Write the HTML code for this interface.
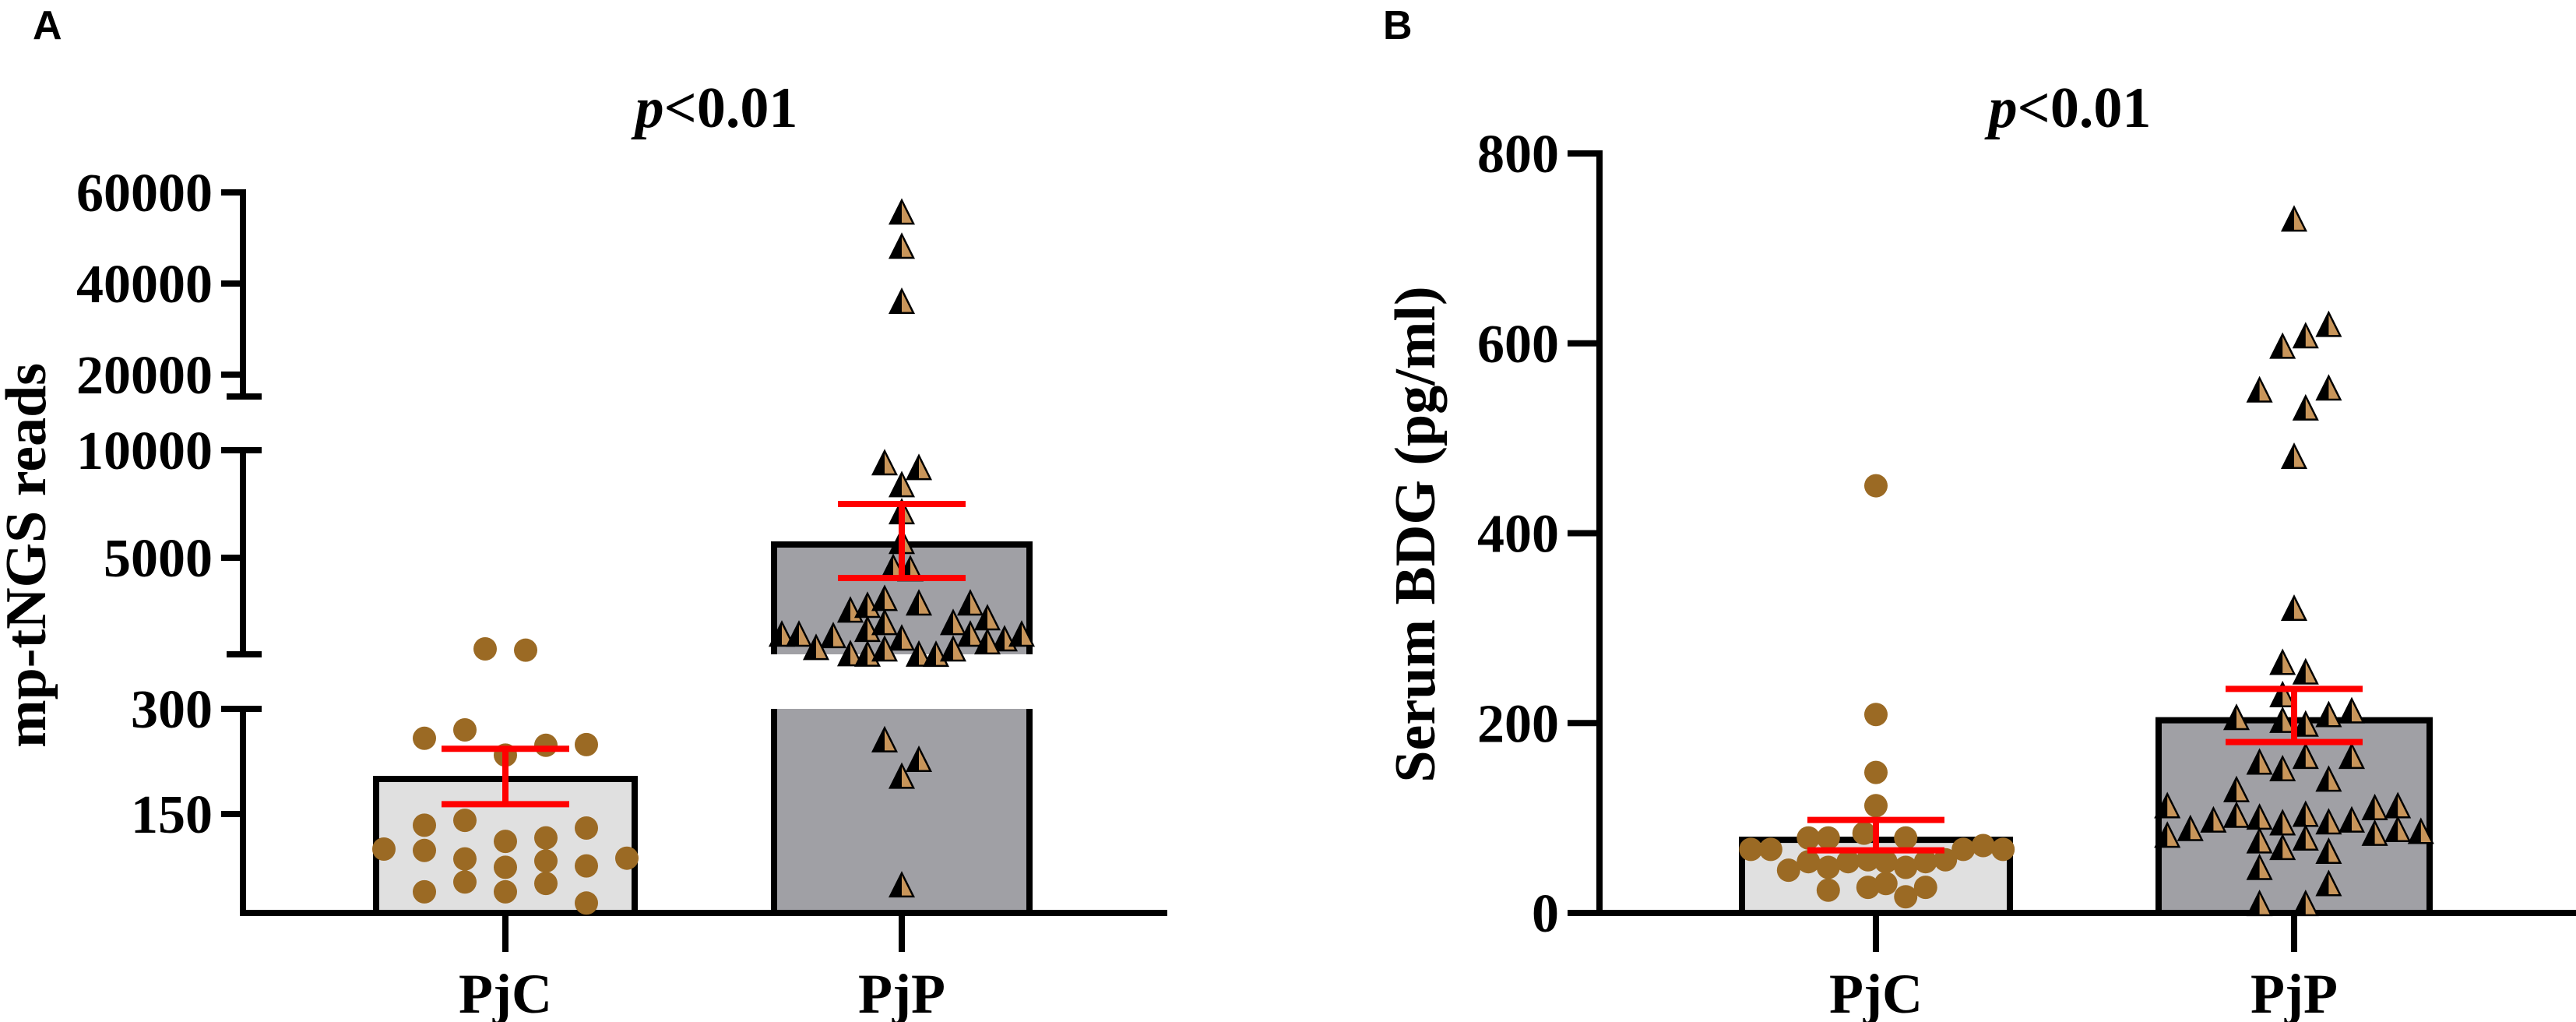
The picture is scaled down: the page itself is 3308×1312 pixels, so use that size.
<!DOCTYPE html>
<html><head><meta charset="utf-8"><style>
body{margin:0;background:#fff}
svg{display:block}
text{font-family:"Liberation Serif",serif;font-weight:bold;fill:#000}
</style></head><body>
<svg id="c" width="3308" height="1312" viewBox="0 0 3308 1312" xmlns="http://www.w3.org/2000/svg">
<text x="42" y="50" style="font-family:'Liberation Sans',sans-serif;font-size:52px">A</text>
<text x="1776" y="50" style="font-family:'Liberation Sans',sans-serif;font-size:52px">B</text>
<text x="920" y="163" text-anchor="middle" font-size="74"><tspan font-style="italic">p</tspan>&lt;0.01</text>
<text x="2658" y="163" text-anchor="middle" font-size="74"><tspan font-style="italic">p</tspan>&lt;0.01</text>
<text transform="translate(58,713) rotate(-90)" text-anchor="middle" font-size="74">mp-tNGS reads</text>
<text transform="translate(1842,686) rotate(-90)" text-anchor="middle" font-size="74">Serum BDG (pg/ml)</text>
<g id="ga"></g><g id="gb"></g>
</svg>
<script>
// Panel A data
const catsA = ["PjC","PjP"];
const meanA = [200, 5616];
const errHiA = [243, 7500];
const errLoA = [164, 4060];
const ticksA = [150,300,5000,10000,20000,40000,60000];
const pjcA = [761,700,258,270,234,248,249,134,141,130,100,98,111,116,87,86,74,83,76,39,53,39,51,23];
const pjcAJit = [-0.5,0.5,-2,-1,0,1,2,-2,-1,2,-3,-2,0,1,3,-1,0,1,2,-2,-1,0,1,2];
const pjpA = [55700,48200,36100,9420,9200,8400,7140,5760,4560,4490,2570,2790,3110,2900,2900,2210,1990,1670,1990,1450,1450,1380,1270,1450,1230,1450,830,540,520,760,520,510,760,1090,256,228,204,49];
const pjpAJit = [0,0,0,-1,1,0,0,0,-0.5,0.5,-3,-2,-1,1,4,5,3,-2,-1,-7,-6,-4,0,4,6,7,-5,-3,-2,-1,1,2,3,5,-1,1,0,0];
// Panel B data
const catsB = ["PjC","PjP"];
const meanB = [77, 203];
const errHiB = [98, 236];
const errLoB = [66, 180];
const ticksB = [0,200,400,600,800];
const pjcB = [450,209,148,113,84,79,79,79,67,67,67,71,67,45,54,48,54,56,54,48,54,56,24,27,31,17,27];
const pjcBJit = [0,0,0,0,-0.6,-3.4,-2.4,1.5,-6.3,-5.3,4.4,5.4,6.4,-4.4,-3.4,-2.4,-1.4,-0.4,0.5,1.5,2.5,3.5,-2.4,-0.4,0.5,1.5,2.5];
const pjpB = [731,597,608,620,551,553,532,481,321,264,254,230,206,203,199,209,213,159,152,165,165,130,141,113,82,89,98,103,101,95,104,96,98,111,113,84,88,86,76,69,79,65,48,31,10,10];
const pjpBJit = [0,-0.5,0.5,1.5,-1.5,1.5,0.5,0,0,-0.5,0.5,-0.5,-2.5,-0.5,0.5,1.5,2.5,-1.5,-0.5,0.5,2.5,-2.5,1.5,-5.5,-5.5,-4.5,-3.5,-2.5,-1.5,-0.5,0.5,1.5,2.5,3.5,4.5,3.5,4.5,5.5,-1.5,-0.5,0.5,1.5,-1.5,1.5,-1.5,0.5];

const NS="http://www.w3.org/2000/svg";
function mk(parent,tag,attrs){const e=document.createElementNS(NS,tag);for(const k in attrs)e.setAttribute(k,attrs[k]);parent.appendChild(e);return e;}
const DOT="#9b6a24",TRI="#c8955a",RED="#ff0000",LW=8;

// Panel A broken axis
const segsA=[{d0:0,d1:300,p0:1180,p1:910,top:910,bot:1172},{d0:507,d1:10000,p0:840,p1:578,top:578,bot:840},{d0:15200,d1:60000,p0:509,p1:247,top:247,bot:509}];
function segOf(v){return v<=300?segsA[0]:(v<=10000?segsA[1]:segsA[2]);}
function yA(v){const s=segOf(v);return s.p0+(v-s.d0)/(s.d1-s.d0)*(s.p1-s.p0);}
const xA0=312, xcA=[649,1158], barHalfA=[166,164];
const ga=document.getElementById('ga');
// bars
{
 const c=0; const x0=xcA[c]-barHalfA[c], x1=xcA[c]+barHalfA[c], yt=yA(meanA[c]);
 const b=mk(ga,'path',{d:`M${x0},1172 V${yt} H${x1} V1172`,fill:'#e0e0e0',stroke:'#000','stroke-width':LW});
 
 
}
{
 const c=1; const x0=xcA[c]-barHalfA[c], x1=xcA[c]+barHalfA[c], yt=yA(meanA[c]);
 const s=segOf(meanA[c]);
 const b=mk(ga,'path',{d:`M${x0},${s.bot} V${yt} H${x1} V${s.bot}`,fill:'#a0a0a5',stroke:'#000','stroke-width':LW});
 
 
 if(s!==segsA[0]){
  const b2=mk(ga,'path',{d:`M${x0},1172 V910 M${x1},910 V1172`,fill:'none',stroke:'#000','stroke-width':LW});
  mk(ga,'rect',{x:x0,y:910,width:x1-x0,height:262,fill:'#a0a0a5'});
  ga.appendChild(b2);
  
  
 }
}
// axes
segsA.forEach((s,i)=>{const l=mk(ga,'line',{x1:xA0,x2:xA0,y1:s.top-(i==2?4:0),y2:s.bot+(i==0?4:0),stroke:'#000','stroke-width':LW});
 
 });
[509,578,840,910].forEach(y=>{const l=mk(ga,'line',{x1:291,x2:336,y1:y,y2:y,stroke:'#000','stroke-width':LW});
 
 });
const xa=mk(ga,'line',{x1:xA0-4,x2:1499,y1:1172,y2:1172,stroke:'#000','stroke-width':LW});


ticksA.forEach(t=>{const y=yA(t);
 mk(ga,'line',{x1:284,x2:xA0,y1:y,y2:y,stroke:'#000','stroke-width':LW});
 const tx=mk(ga,'text',{x:273,y:y+24,'text-anchor':'end','font-size':70});tx.textContent=t;
 
 });
catsA.forEach((c,i)=>{mk(ga,'line',{x1:xcA[i],x2:xcA[i],y1:1172,y2:1222,stroke:'#000','stroke-width':LW});
 const tx=mk(ga,'text',{x:xcA[i],y:1300,'text-anchor':'middle','font-size':72});tx.textContent=c;
 
 });

function dot(g,x,y,name){const e=mk(g,'circle',{cx:x,cy:y,r:15,fill:DOT});
 
 }
function tri(g,x,y,name){const h=30,w=30;const gg=mk(g,'g',{});
 mk(gg,'polygon',{points:`${x},${y-h/2} ${x-w/2},${y+h/2} ${x+w/2},${y+h/2}`,fill:TRI,stroke:'#000','stroke-width':2.5});
 mk(gg,'polygon',{points:`${x},${y-h/2} ${x-w/2},${y+h/2} ${x},${y+h/2}`,fill:'#000'});
 
 }
pjcA.forEach((v,i)=>dot(ga,xcA[0]+pjcAJit[i]*52,yA(v),'point-pjc-a'));
pjpA.forEach((v,i)=>tri(ga,xcA[1]+pjpAJit[i]*22,yA(v),'point-pjp-a'));
function errbar(g,xc,yh,yl,hw,name){const e=mk(g,'path',{d:`M${xc-hw},${yh} H${xc+hw} M${xc},${yh} V${yl} M${xc-hw},${yl} H${xc+hw}`,stroke:RED,'stroke-width':8,fill:'none'});
 
 }
catsA.forEach((c,i)=>errbar(ga,xcA[i],yA(errHiA[i]),yA(errLoA[i]),82,'error-bar-a-'+c.toLowerCase()));

// Panel B
const gb=document.getElementById('gb');
function yB(v){return 1172-v/800*975;}
const xB0=2054, xcB=[2409,2946], barHalfB=[172,174];
catsB.forEach((c,i)=>{const x0=xcB[i]-barHalfB[i],x1=xcB[i]+barHalfB[i],yt=yB(meanB[i]);
 const b=mk(gb,'path',{d:`M${x0},1172 V${yt} H${x1} V1172`,fill:i?'#a0a0a5':'#e0e0e0',stroke:'#000','stroke-width':LW});
 
 });
const yb=mk(gb,'line',{x1:xB0,x2:xB0,y1:yB(800)-4,y2:1176,stroke:'#000','stroke-width':LW});


const xb=mk(gb,'line',{x1:xB0-4,x2:3308,y1:1172,y2:1172,stroke:'#000','stroke-width':LW});


ticksB.forEach(t=>{const y=yB(t);
 mk(gb,'line',{x1:2013,x2:xB0,y1:y,y2:y,stroke:'#000','stroke-width':LW});
 const tx=mk(gb,'text',{x:2002,y:y+24,'text-anchor':'end','font-size':70});tx.textContent=t;
 
 });
catsB.forEach((c,i)=>{mk(gb,'line',{x1:xcB[i],x2:xcB[i],y1:1172,y2:1222,stroke:'#000','stroke-width':LW});
 const tx=mk(gb,'text',{x:xcB[i],y:1300,'text-anchor':'middle','font-size':72});tx.textContent=c;
 
 });
pjcB.forEach((v,i)=>dot(gb,xcB[0]+pjcBJit[i]*25.5,yB(v),'point-pjc-b'));
pjpB.forEach((v,i)=>tri(gb,xcB[1]+pjpBJit[i]*29.6,yB(v),'point-pjp-b'));
catsB.forEach((c,i)=>errbar(gb,xcB[i],yB(errHiB[i]),yB(errLoB[i]),88,'error-bar-b-'+c.toLowerCase()));
</script>
</body></html>
